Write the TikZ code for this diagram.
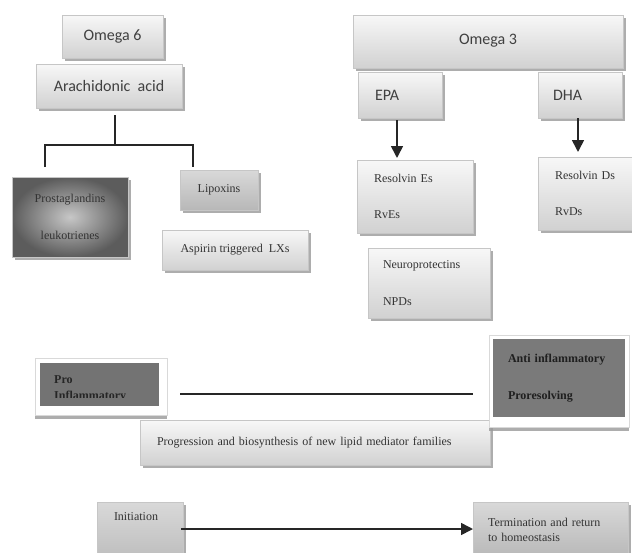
\documentclass[tikz,border=0pt]{standalone}
\usepackage{fontspec}
\setmainfont{Liberation Serif}
\newfontfamily\calibrifont{Carlito}
\usetikzlibrary{shadows,shadings,arrows.meta,positioning}

\newcommand{\serifsize}{\fontsize{12}{14.4}\selectfont}
\newcommand{\sanssize}{\calibrifont\fontsize{16}{19}\selectfont}
\newcommand{\linegap}{22pt}
\newcommand{\forky}{145}
\newcommand{\dropy}{167}
\newcommand{\midliney}{394}
\newcommand{\arrowy}{529}

\begin{document}
\begin{tikzpicture}[x=1pt,y=-1pt]

%% box styles
\tikzstyle{box}=[rectangle,inner sep=0pt,outer sep=0pt,draw=gray!45,line width=0.4pt,drop shadow={shadow xshift=3pt,shadow yshift=-3pt,fill=black!40,opacity=0.8}]
\tikzstyle{lightbox}=[box,top color=gray!6,bottom color=gray!36]
\tikzstyle{midbox}=[box,top color=gray!30,bottom color=gray!56]
\tikzstyle{frame}=[rectangle,inner sep=0pt,fill=white,draw=gray!30,drop shadow={shadow xshift=0pt,shadow yshift=-4pt,fill=black!40,opacity=0.8}]
\tikzstyle{sanstext}=[font=\sanssize,text=black!75]
\tikzstyle{seriftext}=[font=\serifsize,text=black!80]
\tikzstyle{connector}=[line width=1.6pt,draw=black!85]
\tikzstyle{arrowline}=[connector,-{Triangle[width=12pt,length=12pt]}]

%% page size
\useasboundingbox (0,0) rectangle (632,552);
\clip (0,0) rectangle (632,552);

%% omega 6 side
\node (omegasix) [lightbox,sanstext,minimum width=101pt,minimum height=43pt] at (112.5,36.5) {Omega 6};
\node (arachidonic) [lightbox,sanstext,minimum width=146pt,minimum height=44pt] at (109,86) {Arachidonic~ acid};

\node (prosta) [box,inner color=black!22,outer color=black!64,seriftext,minimum width=116pt,minimum height=80pt,align=center] at (70,217) {Prostaglandins\\[\linegap]leukotrienes};
\node (lipoxins) [midbox,seriftext,minimum width=78pt,minimum height=40pt] at (219,190) {Lipoxins};
\node (aspirin) [lightbox,seriftext,minimum width=146pt,minimum height=40pt] at (235,250) {Aspirin triggered~ LXs};

%% fork under arachidonic acid
\coordinate (forktop) at (115,115);
\coordinate (fork) at (115,\forky);
\coordinate (prostatop) at (45,\dropy);
\coordinate (lipoxtop) at (193,\dropy);
\draw[connector] (forktop) -- (fork);
\draw[connector] (prostatop) |- (fork) -| (lipoxtop);

%% omega 3 side
\node (omegathree) [lightbox,sanstext,minimum width=270pt,minimum height=53pt] at (488,41.5) {\raisebox{4pt}{Omega 3}\hspace{38pt}};
\node (epa) [lightbox,sanstext,minimum width=84pt,minimum height=46pt,text width=50pt,align=left] at (400,95) {EPA};
\node (dha) [lightbox,sanstext,minimum width=84pt,minimum height=46pt,text width=54pt,align=left] at (580,95) {DHA};

\node (resolvine) [lightbox,seriftext,minimum width=116pt,minimum height=73pt,text width=82pt,align=left] at (415,196.5) {Resolvin Es\\[\linegap]RvEs};
\node (resolvind) [lightbox,seriftext,minimum width=100pt,minimum height=73pt,text width=66pt,align=left] at (588,193.5) {Resolvin Ds\\[\linegap]RvDs};
\node (neuro) [lightbox,seriftext,minimum width=122pt,minimum height=70pt,text width=92pt,align=left] at (429,283) {Neuroprotectins\\[\linegap]NPDs};

\draw[arrowline] ([xshift=-3pt,yshift=-2pt]epa.south) -- ([xshift=-3pt,yshift=2pt]epa.south |- resolvine.north);
\draw[arrowline] ([xshift=-2pt]dha.south) -- ([xshift=-2pt,yshift=5pt]dha.south |- resolvind.north);

%% pro / anti inflammatory
\node (proframe) [frame,minimum width=132pt,minimum height=57pt] at (101,386.5) {};
\node (proinner) [fill=black!55,inner sep=0pt,minimum width=119pt,minimum height=43pt] at (99.5,384.5) {};
\begin{scope}
\clip (40,363) rectangle (159,397);
\node (protext) [anchor=north west,inner sep=0pt,font=\serifsize\bfseries,text=black!85,align=left] at (54,375) {Pro\\[2.5pt]Inflammatory};
\end{scope}

\node (progression) [lightbox,seriftext,minimum width=350pt,minimum height=45pt,text width=316pt,align=left] at (315,442.5) {Progression and biosynthesis of new lipid mediator families};

\node (antiframe) [frame,minimum width=140pt,minimum height=92pt] at (559,381) {};
\node (anti) [fill=black!52,inner sep=0pt,minimum width=132pt,minimum height=78pt,text width=102pt,align=left,font=\serifsize\bfseries,text=black!88] at (559,378) {Anti inflammatory\\[\linegap]Proresolving};

\coordinate (profree) at (180,\midliney);
\coordinate (antifree) at (473,\midliney);
\draw[connector,line width=1.4pt] (profree) -- (antifree);

%% initiation to termination
\node (initiation) [midbox,seriftext,minimum width=86pt,minimum height=70pt,text width=52pt,align=left] at (140,537) {Initiation\\[\linegap]\strut};
\node (termination) [midbox,seriftext,minimum width=155pt,minimum height=56pt,text width=125pt,align=left] at (550.5,530) {Termination and return\\to homeostasis};

\coordinate (initfree) at (181,\arrowy);
\draw[arrowline] (initfree) -- (initfree -| termination.west);

\end{tikzpicture}
\end{document}
